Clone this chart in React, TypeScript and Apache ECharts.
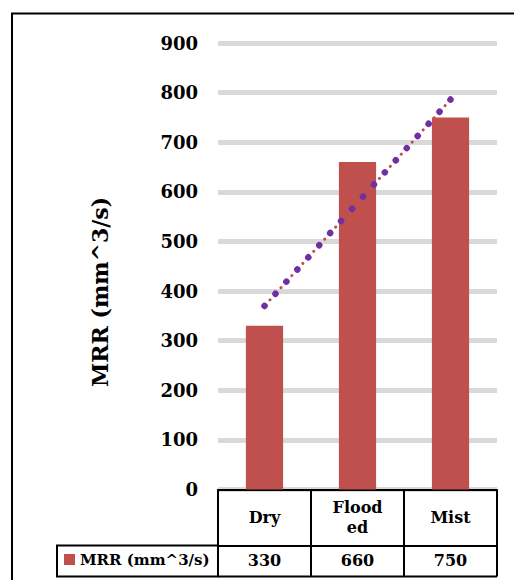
import React, { useEffect, useRef } from "react";
import * as echarts from "echarts";

const categories = ["Dry", "Flooded", "Mist"];
const categoryLabels = ["Dry", "Flood\ned", "Mist"];
const seriesName = "MRR (mm^3/s)";
const mrrValues = [330, 660, 750];
// linear trendline (start, middle, end)
const trendValues = [370, 578, 786];
const yTicks = { min: 0, max: 900, interval: 100 };

const FONT = "DejaVu Serif";

export default function App() {
  const ref = useRef<HTMLDivElement>(null);
  useEffect(() => {
    if (!ref.current) return;
    const chart = echarts.init(ref.current, null, { renderer: "svg" });
    const left = 218;
    const right = 17;
    const top = 43;
    const bottom = 90.5;
    const axisY = 580 - bottom;
    chart.setOption({
      animation: false,
      backgroundColor: "#ffffff",
      grid: { left, right, top, bottom, containLabel: false },
      legend: {
        data: [seriesName],
        left: 64,
        top: 552,
        padding: 0,
        icon: "rect",
        itemWidth: 11,
        itemHeight: 11,
        textStyle: { fontFamily: FONT, fontWeight: "bold", fontSize: 15, color: "#000" },
      },
      xAxis: [
        {
          type: "category",
          data: categories,
          position: "bottom",
          axisLine: { show: true, lineStyle: { color: "#000", width: 2 } },
          axisTick: { show: true, length: 87, lineStyle: { color: "#000", width: 2 } },
          axisLabel: {
            margin: 28,
            verticalAlign: "middle",
            fontFamily: FONT,
            fontWeight: "bold",
            fontSize: 16,
            lineHeight: 20,
            color: "#000",
            formatter: (_v: string, i: number) => categoryLabels[i],
          },
          splitLine: { show: false },
        },
        {
          type: "category",
          data: categories,
          position: "bottom",
          offset: 56,
          axisLine: { show: true, lineStyle: { color: "#000", width: 2 } },
          axisTick: { show: false },
          axisLabel: {
            margin: 15,
            verticalAlign: "middle",
            fontFamily: FONT,
            fontWeight: "bold",
            fontSize: 16,
            color: "#000",
            formatter: (_v: string, i: number) => String(mrrValues[i]),
          },
          splitLine: { show: false },
        },
      ],
      yAxis: {
        type: "value",
        min: yTicks.min,
        max: yTicks.max,
        interval: yTicks.interval,
        axisLine: { show: false },
        axisTick: { show: false },
        axisLabel: {
          margin: 20,
          fontFamily: FONT,
          fontWeight: "bold",
          fontSize: 18,
          color: "#000",
        },
        splitLine: { show: true, lineStyle: { color: "#d9d9d9", width: 5 } },
      },
      series: [
        {
          name: seriesName,
          type: "bar",
          xAxisIndex: 0,
          data: mrrValues,
          barWidth: "40%",
          itemStyle: { color: "#c0504d" },
          z: 2,
        },
        {
          name: "trend-red",
          type: "line",
          xAxisIndex: 0,
          data: trendValues,
          symbol: "none",
          silent: true,
          lineStyle: { color: "#c0504d", width: 3, type: [0.1, 8.07], cap: "round" },
          z: 3,
        },
        {
          name: "trend-purple",
          type: "line",
          xAxisIndex: 0,
          data: trendValues,
          symbol: "none",
          silent: true,
          lineStyle: { color: "#7030a0", width: 6.5, type: [0.1, 16.24], cap: "round" },
          z: 4,
        },
      ],
      graphic: [
        {
          type: "rect",
          shape: { x: 12, y: 13.5, width: 700, height: 800 },
          style: { fill: "none", stroke: "#000", lineWidth: 2 },
          silent: true,
        },
        {
          type: "rect",
          shape: { x: 57, y: axisY + 56, width: left - 57, height: 31 },
          style: { fill: "none", stroke: "#000", lineWidth: 2 },
          silent: true,
        },
        {
          type: "line",
          shape: { x1: left, y1: axisY + 87, x2: 514 - right, y2: axisY + 87 },
          style: { stroke: "#000", lineWidth: 2 },
          silent: true,
        },
        {
          type: "text",
          x: 100,
          y: 292,
          rotation: Math.PI / 2,
          style: {
            text: "MRR (mm^3/s)",
            fontFamily: FONT,
            fontWeight: "bold",
            fontSize: 22,
            fill: "#000",
            align: "center",
            verticalAlign: "middle",
          },
          silent: true,
        },
      ],
    });
    return () => chart.dispose();
  }, []);
  return (
    <div
      ref={ref}
      style={{ position: "fixed", left: 0, top: 0, width: 514, height: 580, background: "#fff" }}
    />
  );
}
